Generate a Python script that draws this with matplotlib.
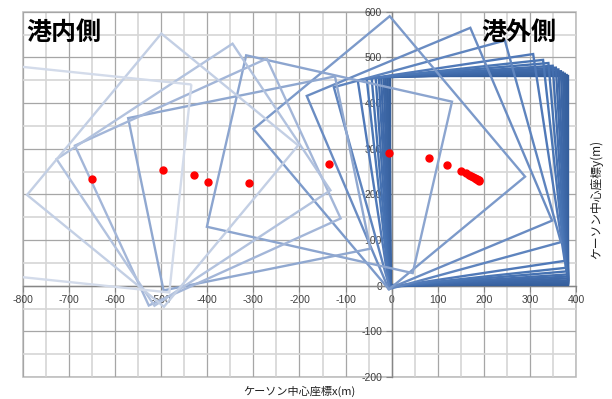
import matplotlib
matplotlib.use("Agg")
import matplotlib.pyplot as plt
from matplotlib.patches import Rectangle

plt.rcParams['font.family'] = ['Liberation Sans', 'Noto Sans CJK JP', 'DejaVu Sans']

# caisson size (m)
caisson_w = 385
caisson_h = 458

# caisson centre positions and rotation angle (deg) per time step
center_x = [190, 189, 187, 185, 183, 180, 177, 173, 168, 162, 151, 121, 82, -5,
            -135, -309, -399, -430, -497, -650]
center_y = [230, 231, 232, 233, 234, 236, 238, 240, 243, 246, 252, 265, 279, 291,
            266, 224, 227, 243, 253, 233]
angle_deg = [0.0, 0.4, 0.9, 1.4, 2.0, 2.6, 3.2, 3.9, 4.9, 6.2, 8.6, 15.4, 22.8, 39.9,
             77.2, 101.5, 114.6, 123.5, 140.5, 174.0]

line_colors = ['#345E9C', '#36609E', '#3862A0', '#3A64A2', '#3C66A5', '#3E68A8',
               '#406BAB', '#436EAE', '#4672B2', '#4A76B5', '#5079B8', '#5E84BE',
               '#6A8CC2', '#7C9ACA', '#8CA5CF', '#90A8D0', '#A3B6D8', '#B2C2DE',
               '#C3CFE4', '#D3DBEA']

x_ticks = list(range(-800, 401, 100))
y_ticks = list(range(-200, 601, 100))

fig = plt.figure(figsize=(6.12, 3.99), dpi=100)
ax = fig.add_axes([0.0376, 0.0551, 0.9035, 0.9156])
ax.set_xlim(-800, 400)
ax.set_ylim(-200, 600)

for cx, cy, a, c in zip(center_x, center_y, angle_deg, line_colors):
    r = Rectangle((cx - caisson_w / 2, cy - caisson_h / 2), caisson_w, caisson_h,
                  angle=a, rotation_point='center', fill=False,
                  edgecolor=c, linewidth=1.7, zorder=3)
    ax.add_patch(r)

ax.plot(center_x, center_y, 'o', color='#FF0000', markersize=5, zorder=5)

# grid
ax.set_xticks(x_ticks)
ax.set_yticks(y_ticks)
ax.set_xticks(range(-750, 400, 100), minor=True)
ax.set_yticks(range(-150, 600, 100), minor=True)
ax.grid(which='major', color='#A6A6A6', linewidth=0.9)
ax.grid(which='minor', color='#D6D6D6', linewidth=1.2)
ax.set_axisbelow(True)
ax.tick_params(which='minor', length=0)
ax.tick_params(which='major', direction='out', length=4, width=0.8, color='#868686',
               labelsize=7.5, labelcolor='#404040', pad=3)

ax.spines['left'].set_position(('data', 0))
ax.spines['bottom'].set_position(('data', 0))
for s in ['left', 'bottom']:
    ax.spines[s].set_color('#868686')
    ax.spines[s].set_linewidth(1.0)
    ax.spines[s].set_zorder(2)
ax.spines['top'].set_visible(False)
ax.spines['right'].set_visible(False)
ax.patch.set_edgecolor('#BFBFBF')
ax.patch.set_linewidth(1.2)

ax.set_xticklabels([str(v) for v in x_ticks])
ax.set_yticklabels([str(v) for v in y_ticks])

fig.text(0.043, 0.917, '港内側', fontsize=18, fontweight='bold',
         family='Noto Sans CJK JP', va='center', ha='left')
fig.text(0.786, 0.917, '港外側', fontsize=18, fontweight='bold',
         family='Noto Sans CJK JP', va='center', ha='left')

fig.text(0.49, 0.018, 'ケーソン中心座標x(m)', fontsize=8, color='#202020',
         family=['Noto Sans CJK JP'], ha='center', va='center')
fig.text(0.975, 0.50, 'ケーソン中心座標y(m)', fontsize=8.5, color='#202020',
         family=['Noto Sans CJK JP'], ha='center', va='center', rotation=90)

fig.savefig('out.png', dpi=100)
